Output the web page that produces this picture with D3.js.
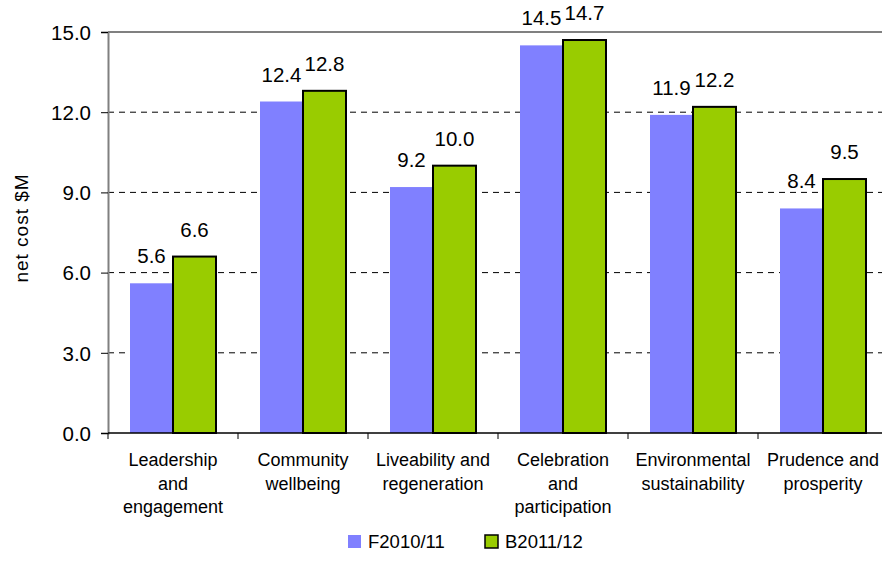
<!DOCTYPE html>
<html>
<head>
<meta charset="utf-8">
<script src="https://cdn.jsdelivr.net/npm/d3@7"></script>
<style>
  body { margin: 0; background: #fff; }
  text { font-family: Arial, "Liberation Sans", sans-serif; fill: #000; }
</style>
</head>
<body>
<div class="cost-chart"></div>
<script>
var categories = [
  ["Leadership", "and", "engagement"],
  ["Community", "wellbeing"],
  ["Liveability and", "regeneration"],
  ["Celebration", "and", "participation"],
  ["Environmental", "sustainability"],
  ["Prudence and", "prosperity"]
];
var seriesNames = ["F2010/11", "B2011/12"];
var f2010 = [5.6, 12.4, 9.2, 14.5, 11.9, 8.4];
var b2011 = [6.6, 12.8, 10.0, 14.7, 12.2, 9.5];
var yTicks = [0, 3, 6, 9, 12, 15];
var colors = ["#8080ff", "#99cc00"];

var data = categories.map(function(c, i) {
  return {key: i, lines: c, values: [f2010[i], b2011[i]]};
});

var width = 882, height = 561;
var margin = {top: 32, left: 108};
var plotW = 780, plotH = 401;

var svg = d3.select(".cost-chart").append("svg")
  .attr("width", width)
  .attr("height", height);

var g = svg.append("g").attr("transform", "translate(" + margin.left + "," + margin.top + ")");

var x = d3.scaleBand().domain(data.map(d => d.key)).range([0, plotW]).paddingInner(0).paddingOuter(0);
var x1 = d3.scaleBand().domain([0, 1]).range([22, x.bandwidth() - 22]);
var y = d3.scaleLinear().domain([0, 15]).range([plotH, 0]);

// gridlines
g.selectAll(".grid").data(yTicks.filter(t => t > 0 && t < 15)).enter().append("line")
  .attr("x1", 0).attr("x2", plotW)
  .attr("y1", d => y(d)).attr("y2", d => y(d))
  .attr("stroke", "#000").attr("stroke-width", 1).attr("stroke-dasharray", "6,5");

// top border
g.append("line").attr("x1", 0).attr("x2", plotW).attr("y1", y(15)).attr("y2", y(15))
  .attr("stroke", "#808080").attr("stroke-width", 2);

// bars
var groups = g.selectAll(".cat").data(data).enter().append("g")
  .attr("transform", d => "translate(" + x(d.key) + ",0)");

groups.selectAll("rect").data(d => d.values.map((v, i) => ({v: v, i: i}))).enter().append("rect")
  .attr("x", d => x1(d.i))
  .attr("width", x1.bandwidth())
  .attr("y", d => y(d.v))
  .attr("height", d => y(0) - y(d.v))
  .attr("fill", d => colors[d.i])
  .attr("stroke", d => d.i === 1 ? "#000" : "none")
  .attr("stroke-width", 2);

groups.selectAll(".val").data(d => d.values.map((v, i) => ({v: v, i: i}))).enter().append("text")
  .attr("x", d => x1(d.i) + x1.bandwidth() / 2)
  .attr("y", d => y(d.v) - 20)
  .attr("text-anchor", "middle")
  .style("font-size", "20.5px")
  .text(d => d.v.toFixed(1));

// y axis
var yAxis = d3.axisLeft(y).tickValues(yTicks).tickFormat(d3.format(".1f")).tickSize(7).tickPadding(10);
var ya = g.append("g").call(yAxis);
ya.select(".domain").attr("stroke", "#808080").attr("stroke-width", 2);
ya.selectAll(".tick line").attr("stroke", "#000");
ya.selectAll(".tick text").style("font-size", "20.5px").attr("dy", "0.36em");

// x axis
var xa = g.append("g").attr("transform", "translate(0," + plotH + ")");
xa.append("line").attr("x1", 0).attr("x2", plotW).attr("stroke", "#000").attr("stroke-width", 1.5);
xa.selectAll(".xt").data(d3.range(categories.length + 1)).enter().append("line")
  .attr("x1", d => d * x.bandwidth()).attr("x2", d => d * x.bandwidth())
  .attr("y1", 0).attr("y2", 6).attr("stroke", "#000");

xa.selectAll(".cl").data(data).enter().append("text")
  .attr("x", d => x(d.key) + x.bandwidth() / 2)
  .attr("y", 33)
  .attr("text-anchor", "middle")
  .style("font-size", "18px")
  .selectAll("tspan").data(d => d.lines).enter().append("tspan")
  .attr("x", function() { return this.parentNode.getAttribute("x"); })
  .attr("dy", (d, i) => i === 0 ? 0 : 23.5)
  .text(d => d);

// y title
svg.append("text")
  .attr("transform", "translate(28,228) rotate(-90)")
  .attr("text-anchor", "middle")
  .style("font-size", "19px")
  .style("letter-spacing", "1px")
  .text("net cost $M");

// legend
var legX = [348, 485];
var leg = svg.selectAll(".leg").data(seriesNames).enter().append("g")
  .attr("transform", (d, i) => "translate(" + legX[i] + ",535)");
leg.append("rect").attr("width", 13).attr("height", 13)
  .attr("fill", (d, i) => colors[i])
  .attr("stroke", (d, i) => i === 1 ? "#000" : "none").attr("stroke-width", 1.5);
leg.append("text").attr("x", 20).attr("y", 13).style("font-size", "18.5px").text(d => d);
</script>
</body>
</html>
